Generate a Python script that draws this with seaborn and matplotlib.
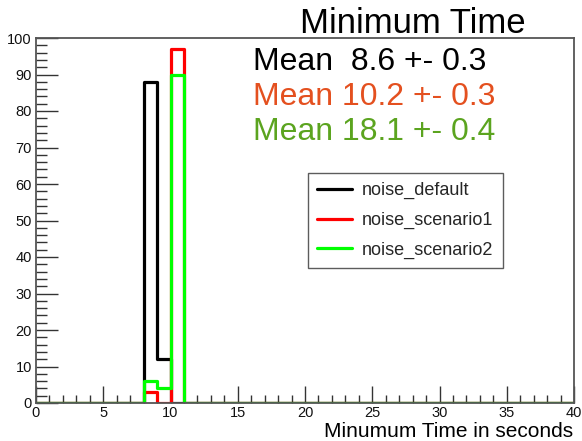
import numpy as np
import pandas as pd
import matplotlib
matplotlib.use("Agg")
import matplotlib.pyplot as plt
import seaborn as sns

# Histogram contents (1-second bins from 0 to 40 s; only non-empty bins listed)
bin_lows = [8, 9, 10]
noise_default = [88, 12, 0]
noise_scenario1 = [3, 0, 97]
noise_scenario2 = [6, 4, 90]

series_names = ["noise_default", "noise_scenario1", "noise_scenario2"]
series_counts = [noise_default, noise_scenario1, noise_scenario2]
series_colors = ["#000000", "#ff0000", "#00ff00"]

mean_labels = ["Mean  8.6 +- 0.3", "Mean 10.2 +- 0.3", "Mean 18.1 +- 0.4"]
mean_colors = ["#000000", "#e4501f", "#5ba41f"]

x_range = (0, 40)
y_range = (0, 100)

sns.set_theme(style="white")
plt.rcParams["font.family"] = ["Liberation Sans", "DejaVu Sans"]

W, H = 582, 441
fig = plt.figure(figsize=(W / 100, H / 100), dpi=100)
ax = fig.add_axes([36 / W, 1 - 403 / H, (574 - 36) / W, (403 - 38) / H])

# Rows: one per bin centre, weighted by the bin count
rows = []
for name, counts in zip(series_names, series_counts):
    for lo, c in zip(bin_lows, counts):
        rows.append({"x": lo + 0.5, "count": c, "series": name})
df = pd.DataFrame(rows)

for name, color in zip(series_names, series_colors):
    sub = df[df["series"] == name]
    sns.histplot(data=sub, x="x", weights="count", binwidth=1, binrange=x_range,
                 element="step", fill=False, color=color, linewidth=2.3,
                 ax=ax, label=name)

ax.set_xlim(*x_range)
ax.set_ylim(*y_range)
ax.set_xlabel("")
ax.set_ylabel("")

# ROOT-like axes: ticks inside, on the left and bottom only
ax.set_xticks(np.arange(0, 41, 5))
ax.set_xticks(np.arange(0, 41, 1), minor=True)
ax.set_yticks(np.arange(0, 101, 10))
ax.set_yticks(np.arange(0, 101, 2), minor=True)
ax.tick_params(axis="both", which="both", direction="in", color="#333333",
               labelsize=10.5, labelcolor="#111111", width=1.0)
ax.tick_params(axis="x", which="major", length=12, pad=2)
ax.tick_params(axis="x", which="minor", length=6)
ax.tick_params(axis="y", which="major", length=16, pad=3)
ax.tick_params(axis="y", which="minor", length=8)
ax.tick_params(bottom=True, left=True, top=False, right=False, which="both")
for s in ax.spines.values():
    s.set_color("#555555")
    s.set_linewidth(1.3)
ax.grid(False)

leg = ax.legend(loc="upper left", bbox_to_anchor=((308 - 36) / 538, (403 - 173) / 365),
                frameon=True, fancybox=False, fontsize=13, handlelength=1.95,
                borderpad=0.5, labelspacing=0.7, handletextpad=0.55,
                borderaxespad=0)
leg.get_frame().set_edgecolor("#333333")
leg.get_frame().set_linewidth(1.0)
for h, c in zip(leg.get_lines(), series_colors):
    h.set_color(c)
    h.set_linewidth(2.3)

fig.text(413 / W, 1 - 33 / H, "Minimum Time", ha="center", va="baseline",
         fontsize=25, color="#000000")
for i, (txt, col) in enumerate(zip(mean_labels, mean_colors)):
    fig.text(253 / W, 1 - (70 + 35 * i) / H, txt, ha="left", va="baseline",
             fontsize=23, color=col)

fig.text(573 / W, 1 - 437 / H, "Minumum Time in seconds", ha="right",
         va="baseline", fontsize=15, color="#000000")

fig.savefig("out.png", dpi=100)
